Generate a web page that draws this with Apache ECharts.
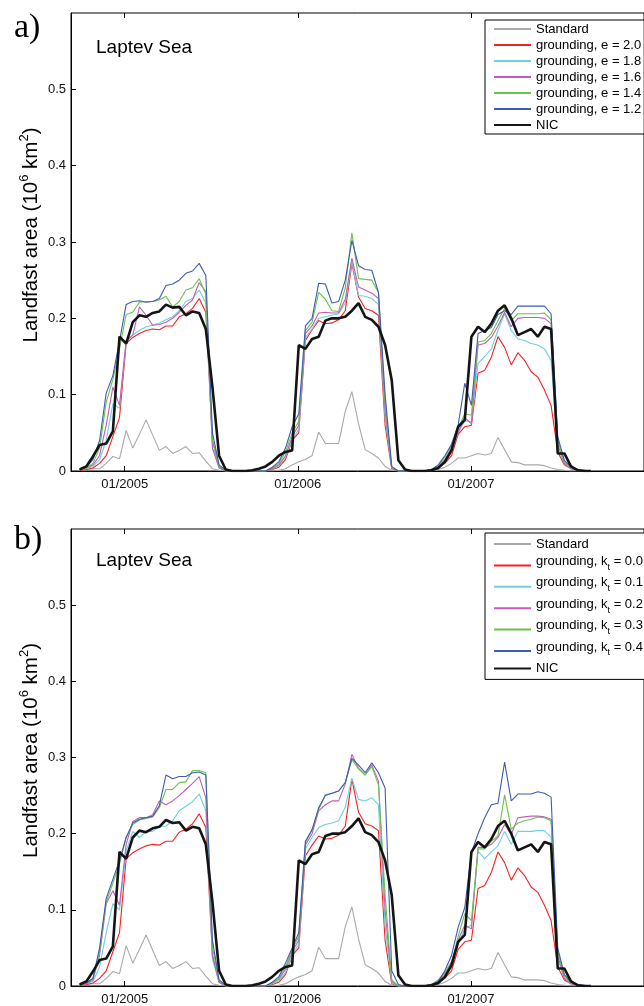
<!DOCTYPE html>
<html>
<head>
<meta charset="utf-8">
<script src="https://cdn.jsdelivr.net/npm/echarts@6/dist/echarts.min.js"></script>
<style>
  html, body { margin: 0; padding: 0; background: #fff; }
  #chart { width: 644px; height: 1006px; }
</style>
</head>
<body>
<div id="chart"></div>
<script>
// Fortnightly sampling grid (decimal years), starting late September 2004
const startYear = 2004.74;
const stepYears = 14 / 365;
const sampleCount = 78;
const dates = Array.from({ length: sampleCount }, (_, i) => startYear + i * stepYears);

// Axis ticks
const yearTicks = [2005, 2006, 2007];
const axisStart = 2004.69;
const axisEnd = 2008.0;

// Landfast ice area, 10^6 km^2
const standard = [
  0.001, 0.002, 0.003, 0.003, 0.010, 0.019, 0.016, 0.053, 0.030, 0.048,
  0.067, 0.047, 0.027, 0.032, 0.023, 0.027, 0.032, 0.023, 0.024, 0.013,
  0.003, 0.001, 0, 0, 0, 0, 0, 0, 0, 0,
  0.001, 0.003, 0.008, 0.012, 0.015, 0.020, 0.051, 0.036, 0.036, 0.036,
  0.078, 0.104, 0.062, 0.028, 0.023, 0.017, 0.006, 0.001, 0, 0,
  0, 0, 0, 0, 0.002, 0.005, 0.010, 0.017, 0.017, 0.020,
  0.023, 0.021, 0.023, 0.044, 0.028, 0.012, 0.011, 0.008, 0.008, 0.008,
  0.007, 0.004, 0.002, 0.001, 0, 0, 0, 0
];

const nic = [
  0.002, 0.006, 0.019, 0.034, 0.036, 0.052, 0.176, 0.167, 0.195, 0.204,
  0.202, 0.207, 0.209, 0.218, 0.214, 0.215, 0.204, 0.209, 0.207, 0.186,
  0.110, 0.020, 0.002, 0, 0, 0, 0.001, 0.003, 0.006, 0.012,
  0.020, 0.025, 0.027, 0.165, 0.160, 0.173, 0.176, 0.197, 0.200, 0.200,
  0.202, 0.210, 0.220, 0.202, 0.198, 0.189, 0.165, 0.119, 0.014, 0.002,
  0, 0, 0, 0.001, 0.004, 0.012, 0.027, 0.058, 0.067, 0.176,
  0.189, 0.182, 0.193, 0.210, 0.217, 0.200, 0.178, 0.182, 0.186, 0.176,
  0.189, 0.186, 0.023, 0.023, 0.006, 0.001, 0, 0
];

const groundingE20 = [
  0.001, 0.002, 0.004, 0.010, 0.020, 0.045, 0.070, 0.167, 0.175, 0.180,
  0.184, 0.186, 0.185, 0.190, 0.190, 0.202, 0.206, 0.213, 0.226, 0.208,
  0.040, 0.005, 0, 0, 0, 0, 0, 0, 0, 0.002,
  0.005, 0.015, 0.040, 0.050, 0.171, 0.185, 0.197, 0.193, 0.194, 0.198,
  0.210, 0.272, 0.228, 0.213, 0.210, 0.204, 0.060, 0.003, 0, 0,
  0, 0, 0, 0.002, 0.005, 0.010, 0.020, 0.048, 0.058, 0.060,
  0.128, 0.132, 0.149, 0.176, 0.162, 0.139, 0.155, 0.145, 0.130, 0.123,
  0.106, 0.086, 0.025, 0.008, 0.003, 0.001, 0, 0
];

const groundingE18 = [
  0.002, 0.003, 0.006, 0.015, 0.040, 0.088, 0.082, 0.170, 0.178, 0.184,
  0.189, 0.191, 0.194, 0.198, 0.202, 0.210, 0.222, 0.226, 0.237, 0.220,
  0.030, 0.004, 0, 0, 0, 0, 0, 0, 0, 0.003,
  0.007, 0.018, 0.040, 0.055, 0.175, 0.186, 0.200, 0.202, 0.204, 0.206,
  0.220, 0.274, 0.230, 0.229, 0.226, 0.218, 0.070, 0.004, 0, 0,
  0, 0, 0, 0.002, 0.006, 0.014, 0.028, 0.050, 0.066, 0.064,
  0.141, 0.150, 0.160, 0.184, 0.206, 0.184, 0.173, 0.171, 0.167, 0.165,
  0.160, 0.145, 0.030, 0.010, 0.003, 0.001, 0, 0
];

const groundingE16 = [
  0.002, 0.004, 0.008, 0.020, 0.060, 0.110, 0.086, 0.171, 0.178, 0.215,
  0.204, 0.191, 0.192, 0.195, 0.200, 0.208, 0.217, 0.224, 0.247, 0.235,
  0.030, 0.004, 0, 0, 0, 0, 0, 0, 0, 0.003,
  0.008, 0.020, 0.045, 0.060, 0.180, 0.190, 0.207, 0.208, 0.207, 0.207,
  0.225, 0.279, 0.241, 0.237, 0.233, 0.226, 0.080, 0.004, 0, 0,
  0, 0, 0, 0.002, 0.006, 0.015, 0.030, 0.050, 0.070, 0.062,
  0.165, 0.167, 0.175, 0.190, 0.208, 0.189, 0.200, 0.201, 0.201, 0.201,
  0.200, 0.193, 0.035, 0.010, 0.003, 0.001, 0, 0
];

const groundingE14 = [
  0.002, 0.004, 0.010, 0.030, 0.090, 0.120, 0.160, 0.205, 0.208, 0.221,
  0.222, 0.222, 0.224, 0.229, 0.215, 0.222, 0.237, 0.240, 0.252, 0.232,
  0.040, 0.006, 0.001, 0, 0, 0, 0, 0, 0, 0.004,
  0.010, 0.025, 0.050, 0.065, 0.184, 0.195, 0.234, 0.225, 0.210, 0.209,
  0.240, 0.312, 0.252, 0.251, 0.250, 0.234, 0.090, 0.005, 0, 0,
  0, 0, 0, 0.002, 0.007, 0.018, 0.033, 0.055, 0.075, 0.073,
  0.169, 0.171, 0.180, 0.197, 0.213, 0.197, 0.206, 0.206, 0.206, 0.206,
  0.207, 0.198, 0.040, 0.012, 0.004, 0.001, 0, 0
];

const groundingE12 = [
  0.002, 0.005, 0.015, 0.040, 0.102, 0.125, 0.170, 0.218, 0.222, 0.223,
  0.221, 0.222, 0.226, 0.243, 0.245, 0.250, 0.259, 0.262, 0.272, 0.256,
  0.050, 0.008, 0.001, 0, 0, 0, 0, 0, 0, 0.005,
  0.012, 0.030, 0.058, 0.075, 0.190, 0.200, 0.246, 0.245, 0.220, 0.222,
  0.250, 0.302, 0.269, 0.264, 0.263, 0.234, 0.100, 0.006, 0, 0,
  0, 0, 0, 0.002, 0.008, 0.020, 0.035, 0.060, 0.115, 0.086,
  0.180, 0.184, 0.188, 0.205, 0.210, 0.205, 0.216, 0.216, 0.216, 0.216,
  0.216, 0.206, 0.045, 0.014, 0.005, 0.002, 0.001, 0
];

// k_t = 0.0 is the same run as e = 2.0
const groundingKt00 = groundingE20;

const groundingKt01 = [
  0.002, 0.003, 0.006, 0.025, 0.070, 0.108, 0.100, 0.177, 0.203, 0.195,
  0.203, 0.203, 0.209, 0.210, 0.217, 0.230, 0.236, 0.242, 0.252, 0.230,
  0.035, 0.005, 0, 0, 0, 0, 0, 0, 0, 0.003,
  0.007, 0.018, 0.040, 0.055, 0.180, 0.195, 0.208, 0.212, 0.214, 0.217,
  0.235, 0.273, 0.245, 0.243, 0.247, 0.238, 0.080, 0.004, 0, 0,
  0, 0, 0, 0.002, 0.006, 0.015, 0.030, 0.055, 0.075, 0.080,
  0.177, 0.167, 0.176, 0.184, 0.203, 0.186, 0.203, 0.203, 0.203, 0.204,
  0.204, 0.195, 0.035, 0.010, 0.003, 0.001, 0, 0
];

const groundingKt02 = [
  0.002, 0.003, 0.008, 0.040, 0.108, 0.125, 0.106, 0.186, 0.216, 0.221,
  0.221, 0.225, 0.243, 0.238, 0.243, 0.250, 0.258, 0.266, 0.275, 0.247,
  0.040, 0.005, 0, 0, 0, 0, 0, 0, 0, 0.004,
  0.009, 0.022, 0.045, 0.060, 0.185, 0.200, 0.230, 0.238, 0.243, 0.243,
  0.265, 0.304, 0.286, 0.277, 0.290, 0.269, 0.100, 0.006, 0, 0,
  0, 0, 0, 0.002, 0.007, 0.017, 0.032, 0.060, 0.080, 0.075,
  0.182, 0.182, 0.186, 0.195, 0.212, 0.199, 0.221, 0.222, 0.223, 0.223,
  0.222, 0.219, 0.040, 0.010, 0.003, 0.001, 0, 0
];

const groundingKt03 = [
  0.002, 0.004, 0.010, 0.045, 0.110, 0.135, 0.160, 0.195, 0.212, 0.218,
  0.220, 0.222, 0.234, 0.258, 0.258, 0.267, 0.268, 0.283, 0.283, 0.280,
  0.050, 0.007, 0, 0, 0, 0, 0, 0, 0, 0.004,
  0.010, 0.025, 0.048, 0.065, 0.188, 0.205, 0.232, 0.251, 0.253, 0.256,
  0.267, 0.297, 0.285, 0.277, 0.288, 0.264, 0.120, 0.008, 0, 0,
  0, 0, 0, 0.002, 0.008, 0.018, 0.030, 0.065, 0.095, 0.086,
  0.180, 0.180, 0.190, 0.197, 0.251, 0.206, 0.214, 0.217, 0.219, 0.222,
  0.221, 0.217, 0.045, 0.012, 0.004, 0.001, 0, 0
];

const groundingKt04 = [
  0.002, 0.004, 0.010, 0.050, 0.115, 0.140, 0.165, 0.195, 0.214, 0.219,
  0.221, 0.223, 0.237, 0.277, 0.272, 0.275, 0.275, 0.280, 0.281, 0.277,
  0.060, 0.008, 0.001, 0, 0, 0, 0, 0, 0, 0.005,
  0.012, 0.030, 0.050, 0.070, 0.190, 0.205, 0.234, 0.250, 0.253, 0.256,
  0.267, 0.299, 0.290, 0.280, 0.293, 0.280, 0.260, 0.020, 0.002, 0,
  0, 0, 0, 0.002, 0.006, 0.020, 0.040, 0.077, 0.103, 0.175,
  0.200, 0.221, 0.238, 0.240, 0.294, 0.243, 0.252, 0.252, 0.252, 0.255,
  0.253, 0.248, 0.050, 0.015, 0.005, 0.002, 0.001, 0
];

// Series lists for each panel: [name, values]
const panelA = [
  ['Standard', standard],
  ['grounding, e = 2.0', groundingE20],
  ['grounding, e = 1.8', groundingE18],
  ['grounding, e = 1.6', groundingE16],
  ['grounding, e = 1.4', groundingE14],
  ['grounding, e = 1.2', groundingE12],
  ['NIC', nic]
];
const panelB = [
  ['Standard', standard],
  ['grounding, kt = 0.0', groundingKt00],
  ['grounding, kt = 0.1', groundingKt01],
  ['grounding, kt = 0.2', groundingKt02],
  ['grounding, kt = 0.3', groundingKt03],
  ['grounding, kt = 0.4', groundingKt04],
  ['NIC', nic]
];

// Line styles, in series order
const lineStyles = [
  { color: '#a9a9a9', width: 1.1 },
  { color: '#f52020', width: 1.1 },
  { color: '#6dd0df', width: 1.1 },
  { color: '#c45cb6', width: 1.1 },
  { color: '#6cc24c', width: 1.1 },
  { color: '#3d5cb2', width: 1.1 },
  { color: '#141414', width: 2.6 }
];

const fontSans = "'Liberation Sans', Arial, Helvetica, sans-serif";
const fontSerif = "'Liberation Serif', 'Times New Roman', serif";

const chart = echarts.init(document.getElementById('chart'), null, { renderer: 'canvas' });

function bottomAxis(g) {
  return {
    type: 'value', gridIndex: g, position: 'bottom',
    min: axisStart, max: axisEnd,
    axisLine: { show: true, lineStyle: { color: '#000', width: 1 } },
    axisTick: { show: true, inside: true, length: 5, customValues: yearTicks, lineStyle: { color: '#000' } },
    axisLabel: {
      show: true, customValues: yearTicks, margin: 7,
      formatter: v => '01/' + Math.round(v),
      fontFamily: fontSans, fontSize: 13, color: '#111'
    },
    splitLine: { show: false }
  };
}

function topAxis(g) {
  return {
    type: 'value', gridIndex: g, position: 'top',
    min: axisStart, max: axisEnd,
    axisLine: { show: false },
    axisTick: { show: true, inside: true, length: 5, customValues: yearTicks, lineStyle: { color: '#000' } },
    axisLabel: { show: false },
    splitLine: { show: false }
  };
}

function leftAxis(g) {
  return {
    type: 'value', gridIndex: g,
    min: 0, max: 0.6, interval: 0.1,
    axisLine: { show: true, lineStyle: { color: '#000', width: 1 } },
    axisTick: { show: true, inside: true, length: 5, lineStyle: { color: '#000' } },
    axisLabel: {
      showMaxLabel: false, margin: 5,
      formatter: v => (v === 0 ? '0' : v.toFixed(1)),
      fontFamily: fontSans, fontSize: 13, color: '#111'
    },
    splitLine: { show: false },
    name: '{m|Landfast area (10}{s|6}{m| km}{s|2}{m|)}',
    nameLocation: 'middle',
    nameGap: 26,
    nameMoveOverlap: false,
    nameTextStyle: {
      padding: [0, 0, 0, 14],
      rich: {
        m: { fontFamily: fontSans, fontSize: 20.5, color: '#000', lineHeight: 28 },
        s: { fontFamily: fontSans, fontSize: 13, color: '#000', padding: [0, 0, 14, 0], lineHeight: 28 }
      }
    }
  };
}

function buildSeries(list, xIdx, yIdx) {
  return list.map(([name, values], k) => ({
    type: 'line',
    name: name,
    xAxisIndex: xIdx,
    yAxisIndex: yIdx,
    data: values.map((v, i) => [dates[i], v]),
    symbol: 'none',
    showSymbol: false,
    lineStyle: { color: lineStyles[k].color, width: lineStyles[k].width },
    itemStyle: { color: lineStyles[k].color },
    emphasis: { disabled: true },
    z: 2 + k
  }));
}

const legendCommon = {
  orient: 'vertical',
  left: 485,
  itemWidth: 37,
  itemHeight: 16,
  borderColor: '#000',
  borderWidth: 1,
  backgroundColor: '#fff',
  selectedMode: false,
  // only the line sample is shown, not the marker
  itemStyle: { opacity: 0 },
  textStyle: { fontFamily: fontSans, fontSize: 13, color: '#000' }
};

const option = {
  animation: false,
  backgroundColor: '#fff',
  grid: [
    { left: 71, top: 13, width: 586, height: 458, show: true, borderColor: '#000', borderWidth: 1, backgroundColor: 'transparent' },
    { left: 71, top: 529, width: 586, height: 457, show: true, borderColor: '#000', borderWidth: 1, backgroundColor: 'transparent' }
  ],
  xAxis: [bottomAxis(0), topAxis(0), bottomAxis(1), topAxis(1)],
  yAxis: [leftAxis(0), leftAxis(1)],
  legend: [
    Object.assign({}, legendCommon, {
      top: 20,
      padding: [2.5, 3, 2.5, 8],
      itemGap: 3,
      data: panelA.map(d => d[0])
    }),
    Object.assign({}, legendCommon, {
      top: 533,
      padding: [4.5, 3, 4.5, 8],
      itemGap: 4.4,
      data: panelB.map(d => d[0]),
      formatter: name => name.indexOf('grounding, kt') === 0
        ? '{m|grounding, k}{s|t}{m|' + name.slice(13) + '}'
        : name,
      textStyle: {
        fontFamily: fontSans, fontSize: 13, color: '#000',
        rich: {
          m: { fontFamily: fontSans, fontSize: 13, color: '#000', lineHeight: 21, verticalAlign: 'top' },
          s: { fontFamily: fontSans, fontSize: 9, color: '#000', lineHeight: 21, verticalAlign: 'top', padding: [8, 0, 0, 0] }
        }
      }
    })
  ],
  series: buildSeries(panelA, 0, 0).concat(buildSeries(panelB, 2, 1)),
  graphic: [
    { type: 'text', x: 14, y: 28, style: { text: 'a)', fontFamily: fontSerif, fontSize: 34, fill: '#000', verticalAlign: 'middle' } },
    { type: 'text', x: 14, y: 540, style: { text: 'b)', fontFamily: fontSerif, fontSize: 34, fill: '#000', verticalAlign: 'middle' } },
    { type: 'text', x: 96, y: 48, style: { text: 'Laptev Sea', fontFamily: fontSans, fontSize: 19, fill: '#000', verticalAlign: 'middle' } },
    { type: 'text', x: 96, y: 561, style: { text: 'Laptev Sea', fontFamily: fontSans, fontSize: 19, fill: '#000', verticalAlign: 'middle' } }
  ]
};

chart.setOption(option);
</script>
</body>
</html>
